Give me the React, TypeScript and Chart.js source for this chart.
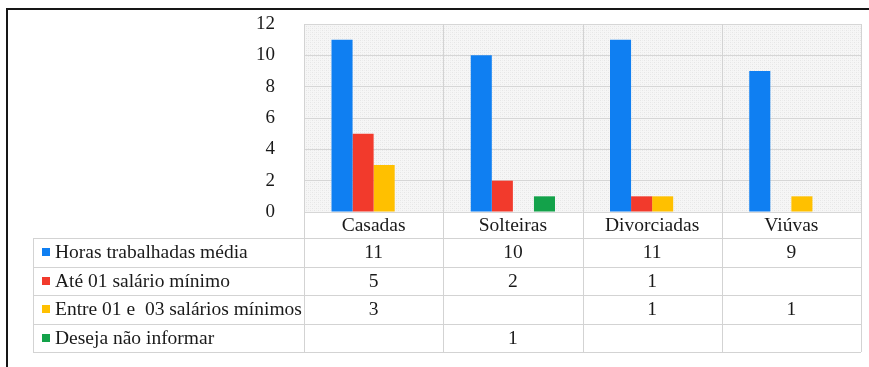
import React, { useEffect, useRef } from 'react';
import { Chart, registerables } from 'chart.js';

Chart.register(...registerables);

const categories = ['Casadas', 'Solteiras', 'Divorciadas', 'Viúvas'];
const seriesNames = [
  'Horas trabalhadas média',
  'Até 01 salário mínimo',
  'Entre 01 e  03 salários mínimos',
  'Deseja não informar',
];
const horasTrabalhadas = [11, 10, 11, 9];
const ate01Salario = [5, 2, 1, null];
const entre01e03Salarios = [3, null, 1, 1];
const desejaNaoInformar = [null, 1, null, null];
const yMin = 0;
const yMax = 12;
const yStep = 2;

const seriesColors = ['#0f7ff2', '#f23a2c', '#ffc000', '#13a24a'];
const FONT_FAMILY = '"Liberation Serif", "Times New Roman", serif';

const CAT_ROW_H = 26;
const ROW_H = 28.5;
const TABLE_LEFT = 33;

const tablePlugin = {
  id: 'dataTable',
  beforeDraw(chart: any) {
    const { ctx, chartArea: a } = chart;
    ctx.save();
    ctx.fillStyle = '#ffffff';
    ctx.fillRect(0, 0, chart.width, chart.height);
    const pc = document.createElement('canvas');
    pc.width = 4;
    pc.height = 4;
    const p = pc.getContext('2d')!;
    p.fillStyle = '#f6f6f6';
    p.fillRect(0, 0, 4, 4);
    p.fillStyle = '#e6e6e6';
    p.fillRect(0, 0, 1, 1);
    p.fillRect(2, 2, 1, 1);
    p.fillStyle = '#eeeeee';
    p.fillRect(2, 0, 1, 1);
    p.fillRect(0, 2, 1, 1);
    const pat = ctx.createPattern(pc, 'repeat');
    if (pat) ctx.fillStyle = pat;
    ctx.fillRect(a.left, a.top, a.right - a.left, a.bottom - a.top);
    ctx.restore();
  },
  afterDraw(chart: any) {
    const { ctx, chartArea: a } = chart;
    const xs = chart.scales.x;
    const n = categories.length;
    const colW = (a.right - a.left) / n;
    const tableTop = a.bottom + CAT_ROW_H;
    const tableBottom = tableTop + ROW_H * seriesNames.length;
    ctx.save();
    ctx.strokeStyle = '#d3d3d3';
    ctx.lineWidth = 1;
    ctx.beginPath();
    for (let i = 0; i <= n; i++) {
      const x = Math.round(a.left + i * colW) + 0.5;
      ctx.moveTo(x, a.top);
      ctx.lineTo(x, tableBottom);
    }
    ctx.moveTo(TABLE_LEFT + 0.5, tableTop);
    ctx.lineTo(TABLE_LEFT + 0.5, tableBottom);
    for (let r = 0; r <= seriesNames.length; r++) {
      const y = Math.round(tableTop + r * ROW_H) + 0.5;
      ctx.moveTo(TABLE_LEFT, y);
      ctx.lineTo(a.right, y);
    }
    ctx.stroke();

    ctx.fillStyle = '#1a1a1a';
    ctx.font = `19.5px ${FONT_FAMILY}`;
    ctx.textBaseline = 'middle';
    ctx.textAlign = 'center';
    categories.forEach((c, i) => {
      ctx.fillText(c, xs.getPixelForValue(i), a.bottom + CAT_ROW_H / 2 + 1);
    });
    chart.data.datasets.forEach((ds: any, r: number) => {
      const cy = tableTop + r * ROW_H + ROW_H / 2 + 1;
      ctx.fillStyle = seriesColors[r];
      ctx.fillRect(TABLE_LEFT + 9, Math.round(cy - 5), 8, 8);
      ctx.fillStyle = '#1a1a1a';
      ctx.textAlign = 'left';
      ctx.fillText(seriesNames[r], TABLE_LEFT + 22, cy);
      ctx.textAlign = 'center';
      ds.data.forEach((v: number | null, i: number) => {
        if (v !== null && v !== undefined) {
          ctx.fillText(String(v), xs.getPixelForValue(i), cy);
        }
      });
    });

    ctx.fillStyle = '#161616';
    ctx.fillRect(6, 8, chart.width - 6, 2);
    ctx.fillRect(6, 8, 2, chart.height - 8);
    ctx.restore();
  },
};

export default function App() {
  const canvasRef = useRef<HTMLCanvasElement | null>(null);

  useEffect(() => {
    document.body.style.margin = '0';
    const canvas = canvasRef.current;
    if (!canvas) return;
    const seriesData = [horasTrabalhadas, ate01Salario, entre01e03Salarios, desejaNaoInformar];
    const chart = new Chart(canvas, {
      type: 'bar',
      data: {
        labels: categories,
        datasets: seriesData.map((d, i) => ({
          label: seriesNames[i],
          data: d as any,
          backgroundColor: seriesColors[i],
          borderWidth: 0,
          barPercentage: 1,
          categoryPercentage: 0.605,
        })),
      },
      options: {
        responsive: false,
        animation: false,
        devicePixelRatio: 1,
        layout: { padding: { left: 0, top: 24, right: 8, bottom: 155 } },
        plugins: {
          legend: { display: false },
          tooltip: { enabled: false },
          title: { display: false },
        },
        scales: {
          x: {
            display: false,
            offset: true,
            grid: { display: false },
          },
          y: {
            min: yMin,
            max: yMax,
            afterFit: (s: any) => {
              s.width = 304;
              s.paddingTop = 0;
              s.paddingBottom = 0;
            },
            ticks: {
              stepSize: yStep,
              padding: 29,
              color: '#1a1a1a',
              font: { family: FONT_FAMILY, size: 19 },
            },
            grid: { color: '#d6d6d6', drawTicks: false, lineWidth: 1 },
            border: { display: false },
          },
        },
      },
      plugins: [tablePlugin],
    });
    return () => chart.destroy();
  }, []);

  return (
    <div style={{ position: 'absolute', left: 0, top: 0, width: 869, height: 367 }}>
      <canvas ref={canvasRef} width={869} height={367} />
    </div>
  );
}
